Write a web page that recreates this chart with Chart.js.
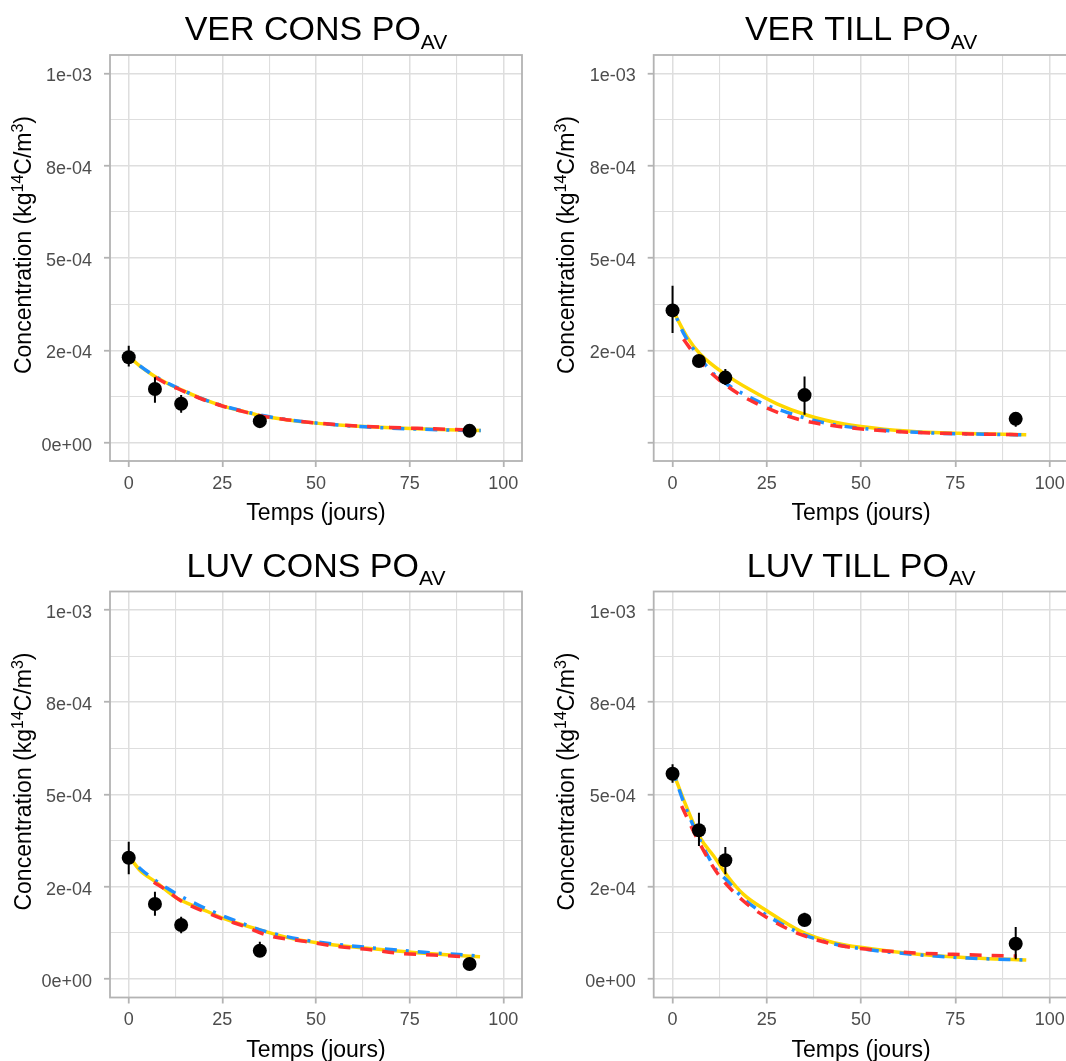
<!DOCTYPE html>
<html>
<head>
<meta charset="utf-8">
<script src="https://cdn.jsdelivr.net/npm/chart.js@4.4.1/dist/chart.umd.min.js"></script>
<style>
    html, body { margin: 0; padding: 0; background: #fff; width: 1066px; height: 1061px; overflow: hidden; }
    canvas { position: absolute; }
</style>
</head>
<body>
<canvas id="ver-cons"></canvas>
<canvas id="ver-till"></canvas>
<canvas id="luv-cons"></canvas>
<canvas id="luv-till"></canvas>
<script>
// =====================
// DATA
// =====================

const days = [0, 7, 14, 35, 91];

const xTicks = [0, 12.5, 25, 37.5, 50, 62.5, 75, 87.5, 100];
const xTickLabels = ['0', '', '25', '', '50', '', '75', '', '100'];
const yTicks = [0, 0.000125, 0.00025, 0.000375, 0.0005, 0.000625, 0.00075, 0.000875, 0.001];
const yTickLabels = ['0e+00', '', '2e-04', '', '5e-04', '', '8e-04', '', '1e-03'];
const yTickLabelsNoZero = ['', '', '2e-04', '', '5e-04', '', '8e-04', '', '1e-03'];

// VER CONS
const verConsObs = [2.31e-4, 1.45e-4, 1.05e-4, 0.58e-4, 0.317e-4];
const verConsLow = [2.06e-4, 1.08e-4, 0.81e-4, 0.54e-4, 0.28e-4];
const verConsHigh = [2.62e-4, 1.77e-4, 1.29e-4, 0.62e-4, 0.36e-4];
const verConsYellowX = [0.5, 3, 7, 10, 14, 19, 25, 30, 35, 42, 50, 57, 63, 70, 77, 85, 94];
const verConsYellow = [2.29e-4, 2.07e-4, 1.79e-4, 1.62e-4, 1.43e-4, 1.21e-4, 0.995e-4, 0.86e-4, 0.735e-4, 0.62e-4, 0.526e-4, 0.47e-4, 0.434e-4, 0.40e-4, 0.371e-4, 0.345e-4, 0.325e-4];
const verConsBlueX = [0.5, 3, 7, 10, 14, 19, 25, 30, 35, 42, 50, 57, 63, 70, 77, 85, 94];
const verConsBlue = [2.29e-4, 2.08e-4, 1.80e-4, 1.63e-4, 1.44e-4, 1.21e-4, 1.00e-4, 0.87e-4, 0.745e-4, 0.625e-4, 0.53e-4, 0.465e-4, 0.425e-4, 0.39e-4, 0.365e-4, 0.34e-4, 0.325e-4];
const verConsRedX = [7, 10, 14, 19, 25, 30, 35, 42, 50, 57, 63, 70, 77, 85, 91];
const verConsRed = [1.77e-4, 1.60e-4, 1.42e-4, 1.20e-4, 0.99e-4, 0.855e-4, 0.73e-4, 0.62e-4, 0.53e-4, 0.475e-4, 0.44e-4, 0.41e-4, 0.385e-4, 0.36e-4, 0.34e-4];

// VER TILL
const verTillObs = [3.58e-4, 2.21e-4, 1.76e-4, 1.285e-4, 0.642e-4];
const verTillLow = [2.965e-4, 2.11e-4, 1.56e-4, 0.755e-4, 0.43e-4];
const verTillHigh = [4.25e-4, 2.31e-4, 1.99e-4, 1.79e-4, 0.815e-4];
const verTillYellowX = [0.7, 3.8, 7.3, 14.2, 20.6, 27.7, 35.7, 45.5, 56.1, 69.4, 82.7, 93.8];
const verTillYellow = [3.46e-4, 2.87e-4, 2.40e-4, 1.835e-4, 1.43e-4, 1.05e-4, 0.74e-4, 0.50e-4, 0.363e-4, 0.271e-4, 0.236e-4, 0.209e-4];
const verTillBlueX = [1.1, 2.9, 7.3, 11, 14.4, 18, 25, 30, 35, 43, 56, 69, 83, 94];
const verTillBlue = [3.37e-4, 2.965e-4, 2.287e-4, 1.85e-4, 1.58e-4, 1.36e-4, 1.01e-4, 0.83e-4, 0.67e-4, 0.48e-4, 0.33e-4, 0.258e-4, 0.225e-4, 0.209e-4];
const verTillRedX = [2.9, 7.3, 11.8, 18, 25.1, 33.9, 42.8, 56.1, 69.4, 82.7, 93.4];
const verTillRed = [2.80e-4, 2.195e-4, 1.745e-4, 1.29e-4, 0.93e-4, 0.615e-4, 0.453e-4, 0.317e-4, 0.255e-4, 0.228e-4, 0.209e-4];

// LUV CONS
const luvConsObs = [3.287e-4, 2.033e-4, 1.463e-4, 0.767e-4, 0.407e-4];
const luvConsLow = [2.837e-4, 1.715e-4, 1.238e-4, 0.60e-4, 0.36e-4];
const luvConsHigh = [3.72e-4, 2.366e-4, 1.688e-4, 1.01e-4, 0.46e-4];
const luvConsYellowX = [0.45, 3.1, 7.1, 12.9, 19.1, 25.3, 35.1, 42.2, 50.2, 63.6, 76.9, 85.8, 93.8];
const luvConsYellow = [3.27e-4, 2.935e-4, 2.637e-4, 2.187e-4, 1.916e-4, 1.645e-4, 1.328e-4, 1.13e-4, 0.984e-4, 0.832e-4, 0.713e-4, 0.65e-4, 0.604e-4];
const luvConsBlueX = [0.45, 3.1, 10.3, 19.1, 27.9, 36.9, 49.3, 63.6, 76.9, 90.2, 93.8];
const luvConsBlue = [3.27e-4, 2.99e-4, 2.458e-4, 1.98e-4, 1.60e-4, 1.28e-4, 1.02e-4, 0.859e-4, 0.74e-4, 0.65e-4, 0.62e-4];
const luvConsRedX = [6.7, 10.3, 13.6, 21.8, 25.3, 30.6, 36.9, 47.6, 56.4, 63.6, 72.4, 81.3, 90.2];
const luvConsRed = [2.62e-4, 2.39e-4, 2.14e-4, 1.76e-4, 1.62e-4, 1.436e-4, 1.19e-4, 1.01e-4, 0.875e-4, 0.805e-4, 0.696e-4, 0.65e-4, 0.604e-4];

// LUV TILL
const luvTillObs = [5.564e-4, 4.03e-4, 3.217e-4, 1.60e-4, 0.957e-4];
const luvTillLow = [5.32e-4, 3.604e-4, 2.837e-4, 1.48e-4, 0.534e-4];
const luvTillHigh = [5.82e-4, 4.507e-4, 3.577e-4, 1.797e-4, 1.41e-4];
const luvTillYellowX = [0.7, 2.9, 7.3, 10.9, 14.9, 18.8, 25.1, 33.9, 42.8, 51.7, 65, 78.3, 93.8];
const luvTillYellow = [5.455e-4, 4.87e-4, 3.83e-4, 3.333e-4, 2.745e-4, 2.295e-4, 1.843e-4, 1.30e-4, 0.984e-4, 0.832e-4, 0.669e-4, 0.577e-4, 0.515e-4];
const luvTillBlueX = [0.7, 2.9, 6.4, 11, 14.9, 18.8, 25.1, 33.9, 42.8, 51.7, 65, 78.3, 93.8];
const luvTillBlue = [5.45e-4, 4.80e-4, 3.95e-4, 3.05e-4, 2.62e-4, 2.18e-4, 1.72e-4, 1.24e-4, 0.95e-4, 0.80e-4, 0.66e-4, 0.57e-4, 0.515e-4];
const luvTillRedX = [2.4, 6.4, 11.8, 18.8, 25.1, 33.9, 42.8, 51.7, 65, 74.4, 91.3];
const luvTillRed = [4.69e-4, 3.83e-4, 2.88e-4, 2.114e-4, 1.66e-4, 1.21e-4, 0.94e-4, 0.805e-4, 0.705e-4, 0.67e-4, 0.623e-4];

// =====================
// STYLE / LAYOUT
// =====================

const FONT = "'Liberation Sans', Arial, Helvetica, sans-serif";
const GRID = '#dedede';
const FRAME = '#b3b3b3';
const YELLOW = '#FFD700';
const BLUE = '#1E90FF';
const RED = '#FF3030';

const panels = [
    {
        id: 'ver-cons', name: 'VER CONS PO', left: 0, top: 0, w: 533, h: 530,
        area: { l: 110, t: 55, r: 522, b: 461 }, yLabels: yTickLabels,
        obs: verConsObs, low: verConsLow, high: verConsHigh,
        yellowX: verConsYellowX, yellow: verConsYellow, blueX: verConsBlueX, blue: verConsBlue, redX: verConsRedX, red: verConsRed,
    },
    {
        id: 'ver-till', name: 'VER TILL PO', left: 533, top: 0, w: 545, h: 530,
        area: { l: 120.7, t: 55, r: 535.5, b: 461 }, yLabels: yTickLabelsNoZero,
        obs: verTillObs, low: verTillLow, high: verTillHigh,
        yellowX: verTillYellowX, yellow: verTillYellow, blueX: verTillBlueX, blue: verTillBlue, redX: verTillRedX, red: verTillRed,
    },
    {
        id: 'luv-cons', name: 'LUV CONS PO', left: 0, top: 530, w: 533, h: 531,
        area: { l: 110, t: 61.5, r: 522, b: 467.5 }, yLabels: yTickLabels,
        obs: luvConsObs, low: luvConsLow, high: luvConsHigh,
        yellowX: luvConsYellowX, yellow: luvConsYellow, blueX: luvConsBlueX, blue: luvConsBlue, redX: luvConsRedX, red: luvConsRed,
    },
    {
        id: 'luv-till', name: 'LUV TILL PO', left: 533, top: 530, w: 545, h: 531,
        area: { l: 120.7, t: 61.5, r: 535.5, b: 467.5 }, yLabels: yTickLabels,
        obs: luvTillObs, low: luvTillLow, high: luvTillHigh,
        yellowX: luvTillYellowX, yellow: luvTillYellow, blueX: luvTillBlueX, blue: luvTillBlue, redX: luvTillRedX, red: luvTillRed,
    },
];

// =====================
// HELPERS
// =====================

function toPoints(xs, ys) {
    return xs.map((x, i) => ({ x: x, y: ys[i] }));
}

// draws a run of text pieces with their own size and baseline shift
function drawRich(ctx, parts, x, y, align) {
    let total = 0;
    parts.forEach(p => {
        ctx.font = `${p.size}px ${FONT}`;
        p.width = ctx.measureText(p.text).width;
        total += p.width;
    });
    let cx = align === 'center' ? x - total / 2 : x;
    parts.forEach(p => {
        ctx.font = `${p.size}px ${FONT}`;
        ctx.fillText(p.text, cx, y + (p.dy || 0));
        cx += p.width;
    });
}

const majorValues = [0, 25, 50, 75, 100, 0.00025, 0.0005, 0.00075, 0.001];
const isMajor = v => majorValues.includes(v);

const decorPlugin = {
    id: 'decor',
    afterDraw(chart) {
        const { ctx, chartArea: a } = chart;
        const name = chart.options.plugins.decor.name;
        ctx.save();
        // panel border
        ctx.strokeStyle = FRAME;
        ctx.lineWidth = 1.8;
        ctx.strokeRect(a.left, a.top, a.right - a.left, a.bottom - a.top);

        ctx.fillStyle = '#000';
        ctx.textBaseline = 'alphabetic';
        ctx.textAlign = 'left';
        const cx = (a.left + a.right) / 2;

        // title
        drawRich(ctx, [
            { text: name, size: 34 },
            { text: 'AV', size: 21, dy: 8.5 },
        ], cx, a.top - 15, 'center');

        // x axis title
        drawRich(ctx, [{ text: 'Temps (jours)', size: 23 }], cx, a.bottom + 59, 'center');

        // y axis title
        ctx.translate(a.left - 79.5, (a.top + a.bottom) / 2 - 13);
        ctx.rotate(-Math.PI / 2);
        drawRich(ctx, [
            { text: 'Concentration (kg', size: 23 },
            { text: '14', size: 16, dy: -8 },
            { text: 'C/m', size: 23 },
            { text: '3', size: 16, dy: -8 },
            { text: ')', size: 23 },
        ], 0, 0, 'center');
        ctx.restore();
    },
};

function gridOptions() {
    return {
        color: GRID,
        lineWidth: c => (c.tick && isMajor(c.tick.value)) ? 1.5 : 1.1,
        tickColor: c => (c.tick && isMajor(c.tick.value)) ? FRAME : 'rgba(0,0,0,0)',
        tickWidth: 1.8,
        tickLength: 6,
        drawTicks: true,
    };
}

// =====================
// CHARTS
// =====================

function makePanel(p) {
    const canvas = document.getElementById(p.id);
    canvas.width = p.w;
    canvas.height = p.h;
    canvas.style.left = p.left + 'px';
    canvas.style.top = p.top + 'px';
    const a = p.area;

    const errData = [];
    days.forEach((d, i) => {
        errData.push({ x: d, y: p.low[i] }, { x: d, y: p.high[i] }, { x: d, y: null });
    });

    new Chart(canvas, {
        type: 'line',
        data: {
            datasets: [
                {
                    label: 'Observations',
                    data: toPoints(days, p.obs),
                    showLine: false,
                    pointRadius: 7,
                    pointBackgroundColor: '#000',
                    pointBorderWidth: 0,
                },
                {
                    label: 'Erreur',
                    data: errData,
                    borderColor: '#000',
                    borderWidth: 2,
                    pointRadius: 0,
                    spanGaps: false,
                },
                {
                    label: 'Rouge',
                    data: toPoints(p.redX, p.red),
                    borderColor: RED,
                    borderWidth: 3.5,
                    borderDash: [12, 10],
                    pointRadius: 0,
                    cubicInterpolationMode: 'monotone',
                },
                {
                    label: 'Bleu',
                    data: toPoints(p.blueX, p.blue),
                    borderColor: BLUE,
                    borderWidth: 3.5,
                    borderDash: [3, 9, 12, 9],
                    pointRadius: 0,
                    cubicInterpolationMode: 'monotone',
                },
                {
                    label: 'Jaune',
                    data: toPoints(p.yellowX, p.yellow),
                    borderColor: YELLOW,
                    borderWidth: 3.5,
                    pointRadius: 0,
                    cubicInterpolationMode: 'monotone',
                },
            ],
        },
        options: {
            responsive: false,
            animation: false,
            events: [],
            layout: { padding: { left: 0, top: a.t, right: p.w - a.r, bottom: 0 } },
            plugins: {
                legend: { display: false },
                tooltip: { enabled: false },
                decor: { name: p.name },
            },
            scales: {
                x: {
                    type: 'linear',
                    min: -5,
                    max: 105,
                    afterBuildTicks: s => { s.ticks = xTicks.map(v => ({ value: v })); },
                    afterFit: s => { s.height = p.h - a.b; },
                    ticks: {
                        autoSkip: false,
                        maxRotation: 0,
                        padding: 6,
                        color: '#4d4d4d',
                        font: { family: FONT, size: 18 },
                        callback: (v, i) => xTickLabels[i],
                    },
                    grid: gridOptions(),
                    border: { display: false },
                },
                y: {
                    type: 'linear',
                    min: -0.00005,
                    max: 0.00105,
                    afterBuildTicks: s => { s.ticks = yTicks.map(v => ({ value: v })); },
                    afterFit: s => { s.width = a.l; },
                    ticks: {
                        autoSkip: false,
                        padding: 12,
                        labelOffset: 3,
                        color: '#4d4d4d',
                        font: { family: FONT, size: 18 },
                        callback: (v, i) => p.yLabels[i],
                    },
                    grid: gridOptions(),
                    border: { display: false },
                },
            },
        },
        plugins: [decorPlugin],
    });
}

panels.forEach(makePanel);
</script>
</body>
</html>
